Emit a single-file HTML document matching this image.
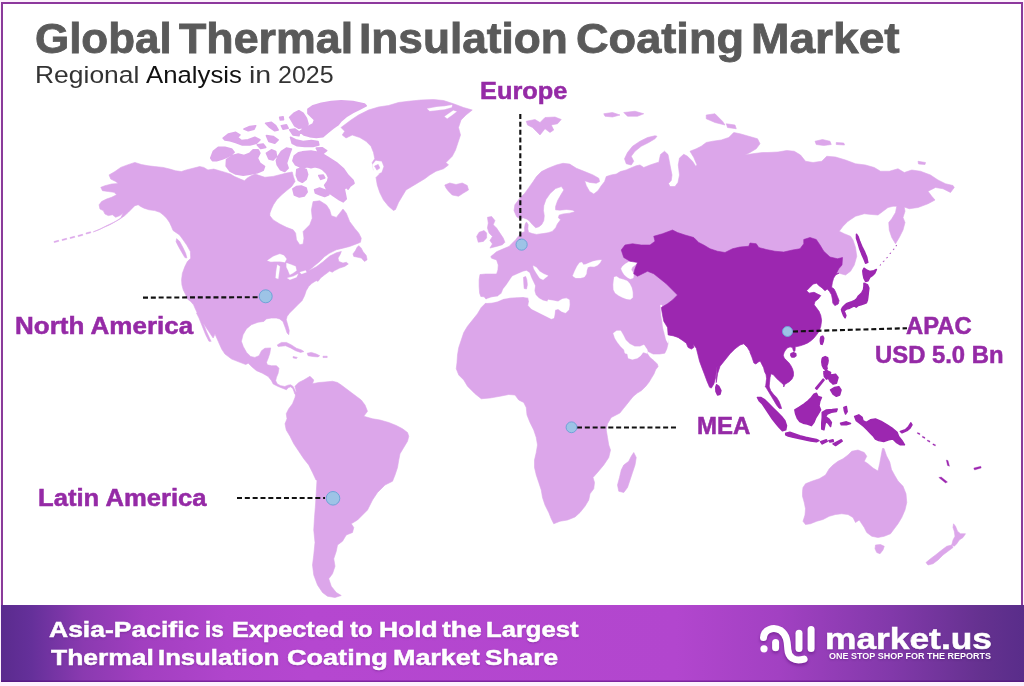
<!DOCTYPE html>
<html><head><meta charset="utf-8"><title>Global Thermal Insulation Coating Market</title>
<style>
html,body{margin:0;padding:0;background:#fdf1fd;}
body{width:1024px;height:686px;position:relative;overflow:hidden;font-family:"Liberation Sans",sans-serif;}
.frame{position:absolute;left:1px;top:2px;width:1022px;height:606px;box-sizing:border-box;border:2px solid #8a3b9a;border-top-color:#8d389d;border-bottom:none;background:#fff;}
.title{position:absolute;font-weight:bold;color:#5a5a5a;-webkit-text-stroke:0.8px #5a5a5a;white-space:nowrap;transform-origin:left top;line-height:1;}
.sub{position:absolute;color:#333;white-space:nowrap;transform-origin:left top;line-height:1;}
.sub b{font-weight:normal;color:#111;}
.lbl{position:absolute;font-weight:bold;color:#952aa6;-webkit-text-stroke:0.5px #952aa6;white-space:nowrap;transform-origin:left top;line-height:1;}
.banner{position:absolute;left:1px;top:605.2px;width:1023px;height:76.4px;box-shadow:inset 0 -1.5px 0 rgba(80,10,120,.55);background:linear-gradient(90deg,#5a2b8e 0%,#65309a 3%,#8a3ab0 8%,#a23fc0 14%,#b045cc 22%,#b547d0 30%,#b246ce 66%,#a241c2 76%,#8239aa 87%,#64318f 96%,#592d8a 100%);}
.btxt{position:absolute;color:#fff;font-weight:bold;-webkit-text-stroke:0.5px #fff;white-space:nowrap;transform-origin:left top;line-height:1;text-shadow:0 1px 2px rgba(60,0,90,.35);}
svg{position:absolute;left:0;top:0;}
</style></head><body>
<div class="frame"></div>
<svg width="1024" height="686" viewBox="0 0 1024 686">
<path d="M109.09,174.9 L114.91,171.57 L120.73,167.42 L127.37,164.93 L134.85,162.43 L141.5,164.59 L148.14,165.76 L154.79,166.59 L163.1,167.42 L169.75,169.08 L175.56,170.74 L181.38,171.57 L186.36,169.91 L193.01,168.25 L199.66,166.59 L203.81,167.42 L207.96,169.91 L213.78,169.08 L219.6,170.74 L225.41,172.4 L230.4,174.06 L234.55,176.56 L240.37,179.05 L244.52,180.71 L247.01,178.22 L251.17,175.73 L254.99,174.06 L264.81,177.25 L273.11,176.42 L279.76,174.76 L286.41,173.1 L292.22,171.94 L293.39,176.42 L295.05,181.41 L291.72,186.39 L286.74,190.55 L281.75,194.7 L276.77,199.69 L273.45,204.67 L271.45,208.99 L269.88,213.23 L269.88,215.73 L273.2,219.88 L279.85,224.03 L286.5,227.36 L293.14,229.85 L295.64,233.17 L296.47,239.82 L299.79,244.81 L303.11,243.97 L303.94,238.16 L303.11,231.51 L304.78,229.85 L309.76,224.87 L312.25,218.22 L311.42,209.91 L313.08,201.6 L319.73,200.77 L326.38,204.93 L329.7,209.91 L331.36,215.73 L336.35,217.39 L339.67,213.23 L342.99,209.08 L346.32,213.23 L349.64,221.54 L354.63,228.19 L358.78,233.17 L361.27,238.16 L360.44,242.31 L356.29,243.97 L349.64,246.47 L342.99,248.13 L336.35,249.79 L329.7,253.11 L324.72,256.44 L319.73,261.42 L314.75,265.58 L309.76,269.73 L308.1,271.06 L316.41,266.74 L323.05,261.75 L329.7,256.11 L336.35,252.78 L341.33,251.45 L340,254.78 L338.01,258.1 L338.84,261.42 L342.99,263.08 L346.32,262.25 L348.31,263.91 L344.66,266.41 L339.67,268.07 L334.69,270.56 L332.19,272.22 L329.7,271.06 L324.72,274.72 L320.56,278.04 L318.07,281.36 L316.17,280.7 L312.01,283.19 L308.69,286.51 L306.2,290.67 L304.54,295.65 L302.04,300.64 L297.89,304.79 L293.74,308.94 L289.58,313.1 L287.09,316.42 L286.26,319.75 L287.92,325.56 L289.25,330.55 L288.75,334.7 L287.09,333.04 L285.43,328.05 L282.93,321.41 L279.61,318.91 L276.29,318.08 L271.3,318.08 L266.32,318.91 L263.83,321.41 L258.01,322.24 L251.36,324.73 L246.38,328.89 L243.05,334.7 L241.39,341.35 L243.25,346.59 L246.57,352.4 L250.73,356.56 L254.88,357.39 L259.03,355.73 L261.53,350.74 L264.85,348.25 L270.67,347.92 L269.84,353.23 L268.17,358.22 L266.51,362.37 L267.34,364.87 L271.5,365.7 L276.48,365.7 L278.97,368.19 L278.14,373.17 L276.48,377.33 L275.65,380.65 L277.31,383.97 L280.64,385.64 L284.79,386.47 L288.11,385.14 L290.61,384.81 L293.1,386.47 L294.76,389.79 L296.09,393.11 L298.08,393.94 L296.42,395.61 L294.76,393.94 L293.93,391.45 L292.77,388.46 L290.61,386.8 L288.11,387.8 L286.45,389.79 L283.13,388.46 L278.14,386.47 L273.16,383.97 L271.5,380.65 L268.17,376.5 L262.36,373.17 L256.54,370.68 L252.39,367.36 L248.23,363.2 L245.74,364.53 L239.93,362.37 L231.62,359.05 L224.97,354.06 L221.65,349.08 L218.32,341.6 L215,334.12 L213.14,338.02 L206.5,328.05 L199.85,318.08 L195.7,309.78 L193.54,304.79 L190.71,301.47 L187.39,298.97 L185.73,294.82 L183.23,289.84 L181.9,284.85 L181.57,279.87 L182.4,273.22 L184.9,266.57 L187.39,261.59 L190.71,258.26 L190.38,251.62 L186.89,245.3 L183.23,239.99 L179.58,235 L173.07,230.56 L171.41,226.41 L169.41,222.25 L166.42,218.1 L163.1,214.78 L159.78,212.28 L154.79,210.62 L148.97,209.79 L143.99,208.13 L140.67,206.47 L138.17,204.81 L134.85,205.64 L132.36,208.13 L128.54,212.12 L124.55,215.77 L119.56,219.26 L113.58,222.42 L106.93,225.58 L100.29,228.9 L93.31,231.89 L99.12,229.73 L104.11,227.24 L109.93,224.75 L115.74,221.42 L120.73,218.1 L123.22,213.11 L119.9,215.61 L115.74,217.27 L112.42,214.78 L108.26,215.61 L104.94,213.94 L103.28,210.62 L99.96,208.96 L99.12,204.81 L101.62,201.48 L106.6,198.99 L111.59,197.33 L116.57,194.84 L114.08,192.34 L108.26,191.51 L102.45,190.68 L100.79,187.36 L104.94,185.7 L111.59,184.03 L118.23,183.54 L115.74,181.54 L110.76,179.05Z M197.36,312.27 L199.85,314.76 L203.17,323.07 L206.5,331.38 L209.82,338.86 L211.15,341.35 L208.99,341.35 L205.67,334.7 L202.34,326.39 L199.02,318.08 L196.53,313.1Z M295,386.25 L298.75,382.5 L303.75,380 L310,376.25 L313.75,380 L312.5,383.75 L318.75,382.5 L325,382 L332.5,381.25 L337.5,382.5 L341.25,385 L346.25,388.75 L351.25,392.5 L356.25,396.25 L361.25,400 L365,405 L367.5,411.25 L363.75,416.25 L372.5,418.75 L380,420 L388.75,422.5 L396.25,425.5 L402.5,428.75 L407.5,432.5 L408.75,436.25 L407.5,441.25 L403.75,447.5 L400,453.75 L398.75,460 L397.5,467.5 L395,475 L392.5,481.25 L385,485 L377.5,492.5 L372.5,500 L370,505 L367.5,510 L362.5,515 L357.5,520 L351.25,523.75 L353.75,527.5 L352.5,532.5 L346.25,535 L342.5,541.25 L337.5,545 L336.25,551.25 L333.75,558.75 L335,566.25 L332.5,573.75 L328.75,578.75 L331.25,586.25 L336.25,592.5 L341.25,595.5 L335,597.5 L327.5,596.25 L322.5,592.5 L317.5,585 L313.75,575 L312.5,565 L313.75,555 L315,542.5 L313.75,530 L314.5,517.5 L315.5,505 L316.25,492.5 L317,480 L316,480 L312.5,472.5 L308.75,465 L303.75,458.75 L298.75,451.25 L293.75,443.75 L290,436.25 L286.25,430 L285,423.75 L287,418.75 L286.25,413.75 L288.75,408.75 L292.5,403.75 L295,397.5 L296.25,391.25Z M341,127.5 L351,120 L358.5,115 L368.5,110 L378.5,107 L388.5,105.5 L398.5,102.5 L408.5,101.25 L421,100 L433.5,99.5 L443.5,100.5 L453.5,103.75 L463.5,107.5 L472.25,110 L466,115 L461,120 L458.5,127.5 L460.5,135 L458,142.5 L455.5,150 L452.25,156.25 L446,162.5 L448.5,165 L443.5,168.75 L436,171.25 L429.75,175 L424.75,178.75 L418.5,182.5 L412.25,186.25 L406,190 L402.25,196.25 L398.5,202.5 L395.5,209.5 L393.5,210.5 L388.5,206.25 L383.5,200 L379.75,192.5 L377.25,185 L376,177.5 L379.75,173.75 L373.5,170 L372.25,162.5 L374.75,158.75 L373.5,152.5 L371,146.25 L366,141.25 L359.75,137.5 L352.25,135 L346,138 L342.25,135 L344.75,131.25Z M444.75,185 L449.75,183 L456,184.5 L462.25,183 L467.25,185.5 L468.5,190 L463.5,193 L458.5,196.25 L452.25,195 L448.5,191.25 L446,188Z M643.75,167.5 L650,165 L657.5,162.5 L658.75,162.5 L660.5,154.5 L664.5,151.25 L668,154.5 L670,165 L672,175 L671.25,180.5 L668.5,183.5 L670,186.5 L675,186.5 L678,182.5 L679.5,175 L678.25,165 L679.5,158 L683.75,154.25 L687.5,156.25 L692.5,161.25 L695.75,166.25 L697,165 L693.75,157.5 L690,151.25 L696.25,148.75 L701.25,146.25 L706.25,142.5 L712.5,141.25 L721.25,140 L728.75,137.5 L733.75,132.5 L740,133.75 L748.75,136.25 L757.5,138.75 L760,143.75 L756.25,148.75 L750,152.5 L745,155 L752.5,153.75 L762.5,152.5 L768,152.5 L778,152 L786.75,150.5 L794.25,151.25 L800.5,155 L805.5,161.25 L813,162.5 L821.75,161.25 L826.75,156.25 L835.5,157 L845.5,160 L855.5,163.75 L865.5,165 L874.25,167.5 L880.5,171.25 L889.25,171.25 L898,168.75 L904.25,172.5 L911.75,170 L920.5,171.25 L930.5,175 L938,180 L945.5,183.75 L953,185.5 L954.25,187.5 L950.5,192.5 L943,188.75 L935.5,187.5 L928,191.25 L931.75,196.25 L935,200 L928,203.75 L918,207.5 L909.25,208.75 L904.25,207 L905,211.25 L903,217.5 L905,222.5 L903,230 L899.25,237.5 L895.5,243.75 L891.75,237.5 L889.25,230 L888.75,222.5 L891.75,218.75 L895.5,212.5 L896.75,206.25 L893,206.25 L888,207.5 L883,211.25 L878,215 L871.75,214.5 L864.25,213.75 L855.5,216.25 L848,221.25 L843,226.25 L839.25,231.25 L844.25,233.75 L850.5,236.25 L853,240 L855.5,247.5 L856.75,256.25 L854.25,265 L850.5,271.25 L845.5,275 L839.02,273.19 L835.7,274.85 L833.54,278.17 L832.37,282.33 L831.54,287.31 L834.03,288.97 L835.7,292.3 L837.36,296.45 L839.02,300.61 L838.19,303.93 L834.87,305.59 L832.87,303.1 L832.37,298.94 L831.54,294.79 L829.55,291.47 L827.39,288.97 L824.9,290.64 L822.4,288.14 L819.08,285.65 L816.59,283.16 L813.26,283.99 L809.94,287.31 L806.62,290.64 L809.11,293.13 L814.09,292.3 L817.42,293.96 L820.74,295.62 L818.25,298.94 L814.93,301.44 L814.09,304.76 L816.59,308.08 L819.08,311.41 L820.74,315.56 L821.57,320.55 L820.74,326.36 L819.08,331.35 L815.92,335.62 L813.48,338.55 L810.55,341 L807.62,342.95 L804.2,344.41 L800.78,345.59 L797.85,346.37 L795.12,346.86 L795.12,349.3 L794.92,351.05 L793.75,351.45 L792.97,349.3 L792.58,347.54 L790.04,346.86 L787.6,347.83 L785.64,349.79 L784.18,352.23 L783.2,355.16 L784.18,358.09 L786.62,360.53 L789.06,362.97 L791.02,365.9 L792.48,368.83 L793.46,372.25 L793.46,375.66 L791.99,379.08 L789.55,381.52 L787.11,382.99 L784.67,384.45 L783.69,386.99 L783.69,384.94 L781.25,382.5 L778.32,380.06 L775.88,377.62 L773.44,374.69 L771,373.71 L770.02,377.62 L769.53,382.5 L769.04,386.99 L769.08,386.62 L770.74,390.77 L773.23,394.09 L776.56,397.42 L779.05,401.57 L780.71,405.73 L781.54,408.55 L779.05,408.22 L776.56,404.9 L774.06,400.74 L771.57,396.59 L769.08,392.43 L766.59,388.28 L765.42,386.62 L765.62,386.99 L766.11,382.5 L766.6,378.59 L766.11,374.69 L764.65,371.76 L763.67,367.85 L761.72,363.95 L760.25,361.02 L758.3,361.99 L755.86,363.95 L753.91,362.97 L751.95,357.11 L750,352.23 L751.25,353.75 L747.5,347.5 L743.75,343.75 L740,345 L735,348.75 L730,353.75 L725,360 L720,366.25 L717.5,373.75 L716.25,382.5 L717.12,365.64 L716.29,371.45 L715.46,378.1 L713.8,383.91 L711.3,388.07 L709.64,387.24 L707.15,381.42 L704.66,374.78 L702.16,368.13 L699.67,361.48 L698.01,354.84 L696.35,348.19 L693.02,344.03 L693.86,347.36 L691.36,349.02 L688.04,347.36 L686.38,343.2 L683.05,340.71 L678.07,337.39 L673.08,335.73 L668.1,334.9 L668.1,343.54 L666.77,349.02 L664.78,353.17 L659.79,354 L653.14,354 L648.16,351.51 L646.16,348.52 L647.33,353.51 L649.82,357.33 L653.97,360.65 L657.3,363.97 L658.13,366.47 L655.64,369.79 L653.97,373.94 L651.48,378.1 L648.99,382.25 L645.67,386.41 L641.51,390.56 L637.36,393.05 L633.2,396.38 L629.88,400.53 L626.56,404.69 L623.23,408.84 L619.91,412.99 L611.25,417.5 L607.5,423.75 L606.25,430 L607.5,437.5 L608.75,445 L610.5,450 L608.75,457.5 L603.75,465 L597.5,472.5 L593,477.5 L594.5,482.5 L593.75,488.75 L590,493.75 L588.75,500 L585,506.25 L580,512.5 L575,517 L567.5,520 L560,521.25 L553.75,523.75 L551.25,518.75 L548.75,512.5 L545,505 L542.5,497.5 L541.25,490 L538.75,482.5 L536.25,475 L534.5,467.5 L534.5,460 L536.25,452.5 L537.5,445 L536.25,437.5 L533.75,430 L530,422.5 L527,415 L526.25,407.5 L523.75,402.5 L518.75,400 L515,395 L508.75,394.5 L500,396.25 L490,398 L481.25,398.75 L475,393.75 L467.5,386.25 L463.75,380 L458.75,375 L456.25,368.75 L457,362.5 L457.5,355 L458.75,347.5 L461.25,340 L463.75,332.5 L467.5,326.25 L472.5,320 L477.5,313.75 L481.25,307.5 L486.25,302.5 L491.25,298 L486.62,299.79 L484.12,296.8 L480.8,296.47 L479.64,293.14 L479.14,286.5 L479.14,279.85 L479.97,274.53 L485.79,274.03 L491.6,274.03 L496.59,274.03 L497.92,269.88 L498.25,264.9 L496.59,259.91 L491.6,258.25 L490.77,256.59 L496.59,251.69 L503.23,248.87 L509.05,246.38 L512.37,243.05 L515.7,239.73 L518.19,236.41 L521.51,233.08 L524.84,231.42 L524.5,228.1 L525.17,223.94 L526.5,221.95 L528.16,224.78 L527.83,228.93 L528.49,232.25 L532.31,233.58 L536.47,234.41 L543.11,233.58 L548.1,232.75 L552.25,231.42 L555.74,227.77 L557.4,223.94 L560.56,219.79 L558.4,217.8 L559.07,215.14 L563.05,213.97 L569.7,213.14 L574.69,211.81 L573.02,210.15 L566.38,209.49 L559.73,210.15 L555.58,209.82 L555.58,206.5 L557.57,200.68 L560.89,194.87 L563.89,189.88 L561.39,186.56 L555.58,188.55 L550.09,193.54 L545.94,199.52 L543.78,205.67 L543.45,210.65 L544.28,215.64 L543.78,220.62 L541.78,224.44 L538.96,226.77 L535.64,227.77 L532.31,224.44 L528.99,220.62 L526.5,218.96 L523.17,217.8 L519.85,218.96 L516.53,216.47 L514.03,210.65 L514.87,204.84 L519.85,198.19 L524.84,193.2 L528.99,187.39 L533.14,181.57 L536.47,176.59 L541.45,171.6 L548.1,168.28 L556.41,164.96 L563.05,163.29 L569.7,164.12 L576.35,168.28 L584.66,171.6 L592.96,174.93 L598.78,178.25 L599.61,181.57 L596.29,183.23 L589.64,182.4 L584.66,180.74 L586.32,185.73 L589.64,191.54 L593.8,194.03 L597.95,190.71 L601.27,185.73 L604.6,181.57 L606.26,176.59 L611.24,174.93 L616.23,174.09 L620.38,171.6 L626.2,169.94 L632.01,167.45 L636.17,165.79 L639.99,164.96Z M487.45,217.3 L491.6,216.47 L494.93,220.62 L493.26,224.78 L496.59,228.1 L499.91,233.08 L503.23,238.07 L504.9,242.22 L502.4,244.72 L496.59,246.38 L489.94,248.04 L492.43,243.89 L489.94,240.56 L492.43,236.41 L489.11,233.08 L487.45,228.1 L488.28,223.11Z M476.65,236.41 L479.14,232.25 L484.12,230.59 L486.62,233.08 L486.62,238.07 L483.29,241.39 L478.31,242.22Z M526.25,121.25 L535,119.5 L540,122.5 L545,117.5 L555,117 L561.25,119.5 L557.5,123.75 L551.25,125 L553.75,130 L550,132.5 L545,128.75 L540,135 L536.25,131.25 L532.5,127.5 L527.5,125Z M655,135.75 L647.5,137.5 L640,141.25 L632.5,146.25 L627.5,152.5 L624.5,158.75 L626.25,163.75 L631.25,165 L633.75,161.25 L631.25,156.25 L635,151.25 L641.25,146.25 L648.75,142.5 L655,138.75 L657,136.25Z M603.75,113.75 L612.5,112.5 L620,115 L612.5,117 L605,116.25Z M623.75,112.5 L635,111.25 L643.75,113.75 L637.5,116.25 L627.5,116.25Z M706.25,115 L715,113.75 L722.5,121.25 L725,125 L715,122.5 L706.25,118.75Z M726.25,123.75 L735,125 L736.25,128.75 L727.5,127.5Z M815,141.25 L822.5,139.5 L830,141.25 L831.25,144.5 L823.75,145.5 L816.25,144.5Z M836.25,142.5 L843.75,143 L844.5,145 L836.25,144.5Z M918,161.25 L925.5,162.5 L925,164.5 L918.5,164Z M633.75,452.5 L636.25,457.5 L635,465 L632.5,472.5 L630,480 L627.5,487.5 L623.75,492.5 L618.75,491.25 L617.5,485 L619.5,477.5 L621.25,470 L623.75,465 L628.75,461.25 L631.25,456.25Z M803,487.5 L805.5,483.75 L811.75,481.25 L819.25,478.75 L825.5,475 L829.25,468.75 L833,465 L838,461.25 L843,458.75 L848,455 L851.75,451.25 L858,450 L864.25,452.5 L866.75,456.25 L864.25,461.25 L868,463.75 L873,468 L878,471 L879.75,463.25 L881.25,455 L882.5,448.5 L884,448.5 L886.5,455.75 L889.75,462 L891.5,469.5 L894.75,475.5 L898,481 L903,486.25 L906,493.75 L906.75,502.5 L905,510 L901.75,517.5 L898,523.75 L894.25,528.75 L890.5,533.75 L884.25,536.25 L878,537.5 L871.75,536.25 L866.75,532.5 L864.25,527.5 L861.75,523.75 L859.25,520 L855.5,522.5 L853,517.5 L848,514.5 L841.75,513.75 L835.5,514.5 L829.25,516.25 L823,519.5 L816.75,521.25 L810.5,523.75 L805.5,524.5 L803,521.25 L805,515 L805.5,508.75 L804.25,502.5 L802.5,496.25 L802.5,491.25Z M875.5,545 L880.5,544.5 L884.25,546.25 L883,550 L880,553.75 L876.75,552.5 L875,548.75Z M953.5,523.75 L955.5,526.25 L957.5,531.25 L960.5,533.75 L965.5,533.75 L963,537.5 L959.25,540 L956.75,543.75 L954.25,546.25 L951.75,545 L953,540 L955,536.25 L954.25,531.25 L953,527.5Z M951.75,545 L953,547.5 L948,551.25 L943,555 L938,560 L933,563.75 L928,565 L926,562.5 L930.5,558.75 L935.5,555 L941.75,550 L946.75,546.25Z M277.31,344.93 L281.47,342.43 L286.45,342.43 L291.44,344.93 L296.42,348.25 L301.41,349.91 L303.9,351.57 L300.58,352.4 L295.59,350.74 L290.61,347.92 L285.62,345.76 L280.64,346.25 L278.14,346.59Z M307.22,353.23 L311.38,352.4 L316.36,354.06 L319.69,355.73 L318.02,356.89 L313.04,356.56 L308.05,355.73Z M293.1,356.56 L297.25,357.39 L296.42,358.55 L293.1,357.89Z M323.01,356.22 L327.16,356.22 L327.16,357.55 L323.01,357.55Z M358.78,245.64 L361.27,248.13 L362.93,251.45 L366.26,255.61 L367.09,259.76 L364.6,261.42 L361.27,258.1 L357.95,257.27 L353.8,256.44 L352.96,253.94 L355.46,250.62 L357.12,247.3Z M176.59,238.66 L179.58,241.31 L182.9,247.46 L185.73,253.61 L186.89,257.93 L184.9,257.6 L181.9,252.45 L178.58,246.63 L176.09,241.65Z M86,233 L90.5,231.8 L90.8,232.8 L86.3,234Z M78,235.5 L82.5,234.3 L82.8,235.3 L78.3,236.5Z M70,237.5 L74.5,236.3 L74.8,237.3 L70.3,238.5Z M62,239.5 L66.5,238.3 L66.8,239.3 L62.3,240.5Z M54,241.5 L58.5,240.3 L58.8,241.3 L54.3,242.5Z" fill="#dca6ea" stroke="#dca6ea" stroke-width="0.6" stroke-linejoin="round"/>
<path d="M210.8,158.14 L213.29,151.5 L218.28,147.34 L224.93,147.34 L231.57,149 L234.06,152.33 L230.74,154.82 L226.59,157.31 L222.43,158.97 L216.62,160.64 L212.46,160.64Z M226.59,159.81 L232.4,155.65 L238.22,153.99 L244.03,155.65 L249.85,153.16 L253.17,149.84 L258.16,149.84 L259.82,153.16 L257.33,158.14 L259.82,163.13 L264.47,166.45 L263.14,170.11 L257.33,172.77 L249.85,174.1 L243.2,175.09 L235.73,173.93 L229.91,171.11 L226.25,166.12Z M223.26,138.2 L228.25,134.05 L235.73,132.39 L239.88,134.88 L237.39,137.37 L241.54,140.7 L248.19,139.87 L254.84,137.37 L259.82,139.87 L256.5,143.19 L249.85,144.85 L242.37,144.85 L235.73,142.36 L229.91,140.7 L224.93,139.87Z M244.03,129.06 L249.85,126.57 L255.67,125.74 L254,129.06 L248.19,130.73Z M265.64,123.25 L271.45,122.42 L275.61,125.74 L278.1,129.9 L274.78,130.73 L269.79,127.4Z M266.47,135.71 L273.11,136.54 L278.1,139.87 L274.78,143.19 L268.96,141.53Z M281.42,125.74 L286.41,124.91 L288.07,128.23 L283.08,129.06Z M290.56,137.37 L295.55,139.87 L303.02,141.53 L311.33,140.7 L317.98,141.53 L318.81,144.85 L312.99,146.51 L304.69,146.51 L297.21,145.68 L292.22,143.19Z M308.01,109.12 L312.99,105.8 L321.3,103.31 L331.27,101.65 L341.24,100.82 L352.87,101.65 L364.51,104.14 L366.17,105.8 L359.52,109.12 L352.87,112.45 L346.23,116.6 L341.24,120.76 L337.92,124.91 L332.93,128.23 L327.95,132.39 L322.96,136.54 L316.32,137.37 L309.67,136.54 L303.86,134.88 L299.7,131.56 L303.02,129.06 L308.01,126.57 L312.99,124.08 L314.66,119.93 L311.33,116.6 L308.01,113.28Z M289.73,117.43 L293.89,113.28 L298.87,110.79 L303.02,113.28 L306.35,118.26 L308.01,124.08 L304.69,127.4 L298.87,128.23 L294.72,125.74 L292.22,121.59Z M266.47,153.16 L271.45,149.84 L275.61,151.5 L276.44,156.48 L273.11,159.81 L268.96,158.97Z M278.1,156.48 L281.42,151.5 L286.41,148.17 L291.39,149 L289.73,153.16 L288.07,158.14 L286.41,163.13 L288.07,168.11 L284.75,171.44 L280.59,169.78 L277.27,164.79 L276.44,160.64Z M302.23,151.95 L311.02,150.98 L320.78,152.93 L328.59,157.81 L336.41,162.7 L343.24,168.55 L348.12,175.39 L353.01,180.27 L353.98,183.2 L350.08,186.13 L348.12,189.06 L346.17,187.11 L344.22,189.06 L345.2,193.95 L346.17,198.83 L343.24,201.76 L339.34,199.8 L336.41,197.85 L333.48,195.9 L329.57,192.97 L326.64,189.06 L324.69,185.16 L327.62,181.25 L328.59,177.34 L326.64,173.44 L322.73,169.53 L318.83,167.58 L314.92,166.6 L311.02,167.58 L307.11,166.6 L303.2,167.58 L299.3,166.6 L295.39,164.65 L292.95,160.74 L294.41,155.86 L298.32,152.93Z M296.86,169.53 L301.25,168.07 L306.13,169.53 L307.6,174.41 L306.13,179.3 L302.23,182.23 L298.32,180.27 L296.37,175.39Z M292.95,189.06 L296.37,186.62 L301.25,186.13 L306.13,188.09 L307.11,191.99 L304.18,195.9 L299.3,196.88 L294.41,194.92Z M318.83,175.59 L323.22,175.2 L324.69,177.83 L320.78,179.3Z M314.66,189.72 L319.64,188.05 L326.29,190.55 L328.78,194.7 L324.63,196.36 L319.64,194.7 L315.49,193.04Z M289.73,129.9 L294.72,129.06 L299.7,132.39 L298.87,135.71 L293.05,134.88Z M316.32,148.17 L322.13,147.84 L326.62,150.67 L323.8,152.83 L318.31,151.83Z M257.33,144.85 L263.14,144.02 L265.64,147.34 L260.65,148.51Z M279.76,117.43 L283.08,116.93 L283.42,119.59 L280.43,119.93Z" fill="#dca6ea" stroke="#dca6ea" stroke-width="1.7" stroke-linejoin="round"/>
<path d="M486.62,298.96 L491.6,297.3 L497.42,296.47 L501.57,293.14 L503.23,288.99 L506.56,284.84 L509.88,279.85 L512.37,276.19 L517.36,274.03 L523.17,271.54 L526.5,270.71 L529.49,272.87 L531.15,277.36 L533.14,281.51 L535.14,285.67 L534.47,290.65 L535.64,294.81 L538.96,298.13 L543.11,300.62 L547.27,301.45 L548.1,299.79 L553.08,300.62 L558.07,301.45 L562.22,298.96 L566.38,298.13 L569.37,299.79 L569.7,304.78 L568.87,309.76 L565.55,313.08 L561.39,311.42 L558.07,308.93 L555.08,310.09 L554.75,313.91 L553.91,318.07 L551.42,318.9 L546.44,316.41 L541.45,313.91 L536.47,311.42 L531.48,308.93 L528.16,305.61 L528.99,301.45 L528.16,297.8 L523.17,296.97 L516.53,297.3 L509.88,297.8 L503.23,298.96 L497.42,301.45 L491.6,302.78 L486.62,303.11 L484.12,301.78Z M533.14,265.73 L536.47,267.39 L539.79,271.54 L543.94,274.03 L548.1,275.7 L543.11,279.85 L539.79,278.19 L536.47,273.2 L533.97,269.05Z M572.7,276.02 L574.65,271.13 L577.09,266.25 L579.53,262.83 L581.97,262.34 L583.44,264.79 L585.88,264.3 L589.3,262.83 L593.2,261.37 L598.09,260.2 L601.5,259.9 L600.04,262.83 L597.6,265.27 L594.18,266.74 L590.27,266.45 L587.83,267.23 L586.86,270.16 L586.37,274.06 L584.41,276.99 L580.51,277.97 L575.62,277.97Z M621.04,268.69 L622.5,266.25 L625.43,263.81 L628.85,261.86 L632.75,260.88 L637.15,261.17 L637.64,263.32 L634.71,265.27 L632.27,267.23 L631.29,269.67 L632.75,272.11 L633.73,275.04 L633.24,277.97 L630.31,278.95 L627.38,277.48 L624.45,275.04 L622.5,272.11Z M614.2,276.99 L616.64,276.5 L619.57,278.46 L623.48,279.43 L627.38,280.9 L629.82,283.83 L631.78,287.73 L632.75,292.62 L632.75,297.5 L630.31,299.45 L626.41,298.96 L622.5,297.5 L618.59,295.55 L615.18,293.11 L613.52,289.69 L613.22,284.8 L613.71,280.41Z M613.26,333.23 L616.59,330.74 L620.74,330.74 L623.23,334.9 L625.73,339.88 L629.88,344.03 L634.87,346.53 L639.85,346.53 L644,344.87 L645.67,347.36 L647.33,349.85 L647.33,353.51 L643.17,352.34 L640.68,355.67 L637.36,358.16 L632.37,359.49 L628.22,358.16 L627.39,354 L624.9,353.17 L624.06,349.85 L620.74,346.53 L617.42,342.37 L614.93,338.22Z M660.46,304.99 L661.78,304.99 L663.11,313.29 L664.78,317.45 L664.28,321.6 L666.44,324.93 L668.76,329.91 L667.77,334.56 L669.76,335.56 L668.1,343.54 L666.11,339.88 L664.44,333.23 L663.11,328.25 L662.28,321.6 L661.12,314.96Z M267.39,260.59 L273.2,256.44 L279.85,253.94 L284,255.61 L286.5,258.93 L284.84,262.25 L279.85,261.42 L274.87,261.42 L270.71,261.75Z M277.36,264.75 L279.85,266.41 L279.02,273.05 L278.19,278.87 L275.7,278.04 L276.19,271.39Z M286.5,263.08 L291.48,264.75 L295.64,266.41 L296.47,270.56 L293.14,273.05 L289.82,274.72 L288.16,270.56 L286.5,267.24Z M287.33,278.04 L293.14,276.38 L298.13,273.89 L296.47,277.21 L289.82,279.7Z M299.79,272.22 L305.61,270.56 L306.44,272.22 L301.45,273.89Z M427.21,108.63 L436.35,106.96 L444.66,106.3 L452.13,104.97 L451.64,107.3 L444.66,109.29 L436.35,110.29 L429.7,110.95Z M444.66,116.6 L449.64,112.95 L453.3,110.62 L456.62,111.62 L452.13,114.94 L447.15,118.6Z M372.37,164.79 L375.7,160.64 L381.51,161.47 L383.51,166.45 L381.51,172.27 L376.53,174.43 L373.54,170.61Z" fill="#ffffff" stroke="#ffffff" stroke-width="0.3" stroke-linejoin="round"/>
<path d="M523.51,277.36 L525.67,276.53 L526.83,279.85 L527.33,284.84 L526.5,288.99 L524.17,288.49 L523.84,284Z M374.53,166.12 L378.19,164.46 L379.85,168.11 L376.86,170.11Z" fill="#dca6ea" stroke="#dca6ea" stroke-width="0.6" stroke-linejoin="round"/>
<path d="M621.25,250 L625,245 L632.5,243.75 L641.25,245 L650,245 L655,241.25 L653.75,236.25 L662.5,233.75 L672.5,230 L677.5,232.5 L685,235 L693.75,237.5 L698.75,242.5 L703.75,245 L710,248.75 L717.5,251.25 L725,252.5 L732.5,248.75 L740,247 L748.75,246.25 L750,243 L756.25,243.75 L758.75,247.5 L766.25,249.5 L775,251.25 L783.75,252 L792.5,250 L800,248.75 L803.75,243.75 L803.75,239.5 L810,237.5 L816.25,239.5 L820,245 L823.75,251.25 L830,257 L837.5,258.75 L842.5,257.5 L842,265 L838.75,268.75 L836.25,273.75 L839.02,273.19 L835.7,274.85 L833.54,278.17 L832.37,282.33 L831.54,287.31 L834.03,288.97 L835.7,292.3 L837.36,296.45 L839.02,300.61 L838.19,303.93 L834.87,305.59 L832.87,303.1 L832.37,298.94 L831.54,294.79 L829.55,291.47 L827.39,288.97 L824.9,290.64 L822.4,288.14 L819.08,285.65 L816.59,283.16 L813.26,283.99 L809.94,287.31 L806.62,290.64 L809.11,293.13 L814.09,292.3 L817.42,293.96 L820.74,295.62 L818.25,298.94 L814.93,301.44 L814.09,304.76 L816.59,308.08 L819.08,311.41 L820.74,315.56 L821.57,320.55 L820.74,326.36 L819.08,331.35 L815.92,335.62 L813.48,338.55 L810.55,341 L807.62,342.95 L804.2,344.41 L800.78,345.59 L797.85,346.37 L795.12,346.86 L795.12,349.3 L794.92,351.05 L793.75,351.45 L792.97,349.3 L792.58,347.54 L790.04,346.86 L787.6,347.83 L785.64,349.79 L784.18,352.23 L783.2,355.16 L784.18,358.09 L786.62,360.53 L789.06,362.97 L791.02,365.9 L792.48,368.83 L793.46,372.25 L793.46,375.66 L791.99,379.08 L789.55,381.52 L787.11,382.99 L784.67,384.45 L783.69,386.99 L783.69,384.94 L781.25,382.5 L778.32,380.06 L775.88,377.62 L773.44,374.69 L771,373.71 L770.02,377.62 L769.53,382.5 L769.04,386.99 L769.08,386.62 L770.74,390.77 L773.23,394.09 L776.56,397.42 L779.05,401.57 L780.71,405.73 L781.54,408.55 L779.05,408.22 L776.56,404.9 L774.06,400.74 L771.57,396.59 L769.08,392.43 L766.59,388.28 L765.42,386.62 L765.62,386.99 L766.11,382.5 L766.6,378.59 L766.11,374.69 L764.65,371.76 L763.67,367.85 L761.72,363.95 L760.25,361.02 L758.3,361.99 L755.86,363.95 L753.91,362.97 L751.95,357.11 L750,352.23 L751.25,353.75 L747.5,347.5 L743.75,343.75 L740,345 L735,348.75 L730,353.75 L725,360 L720,366.25 L717.5,373.75 L716.25,382.5 L717.12,365.64 L716.29,371.45 L715.46,378.1 L713.8,383.91 L711.3,388.07 L709.64,387.24 L707.15,381.42 L704.66,374.78 L702.16,368.13 L699.67,361.48 L698.01,354.84 L696.35,348.19 L693.02,344.03 L693.86,347.36 L691.36,349.02 L688.04,347.36 L686.38,343.2 L683.05,340.71 L678.07,337.39 L673.08,335.73 L668.1,334.9 L667.5,327.5 L663.75,321.25 L662.5,315 L661.25,307.5 L667.5,303.75 L672.5,300 L677.5,295 L672.5,290 L666.25,283.75 L660,278.75 L653.75,273.75 L647.5,271.25 L642.5,273.75 L637.5,276.25 L633.75,273.75 L635,268.75 L637.5,262.5 L630,261.25 L623.75,257.5Z" fill="#9c27b0" stroke="#9c27b0" stroke-width="0.6" stroke-linejoin="round"/>
<path d="M856.47,234.14 L858.13,236.63 L859.79,241.62 L862.28,247.43 L864.78,252.42 L866.77,257.4 L867.77,262.39 L865.61,263.22 L863.94,259.06 L861.78,254.08 L859.79,249.09 L858.13,243.28 L856.47,238.29Z M863.94,268.2 L866.44,269.87 L869.76,271.53 L873.91,270.7 L876.41,269.53 L874.75,273.19 L872.25,275.68 L869.76,277.34 L868.1,280.67 L865.61,281.5 L863.94,278.17 L863.11,274.02 L862.78,270.7Z M863.96,283.18 L867.38,284.65 L868.85,288.07 L868.36,292.46 L867.87,296.86 L867.38,300.27 L866.41,302.71 L863.96,303.69 L861.04,304.67 L858.11,305.64 L856.15,307.11 L854.69,306.13 L852.73,306.62 L850.78,307.6 L848.83,308.57 L846.39,309.06 L844.43,310.53 L842.97,310.04 L841.5,309.55 L842.48,307.6 L844.43,305.64 L846.39,303.69 L848.83,302.71 L851.76,301.74 L854.2,300.76 L856.64,298.81 L858.11,296.37 L860.06,294.41 L862.01,292.46 L863.48,289.53 L863.96,286.11Z M841.5,309.55 L843.46,310.53 L844.92,312.97 L845.9,315.41 L845.12,317.85 L843.75,315.9 L842.77,313.46 L841.99,311.5Z M821.09,336.6 L822.75,336.11 L823.73,338.07 L823.24,341.48 L822.07,344.41 L820.8,343.93 L820.31,341 L820.51,338.55Z M791.02,353.69 L793.46,352.71 L795.7,353.69 L795.9,355.64 L793.95,357.11 L791.8,356.91 L790.82,355.35Z M716.62,384.75 L718.78,386.41 L720.94,390.56 L719.94,394.38 L717.62,395.05 L715.96,391.39 L715.79,387.24Z M822.75,357.6 L825.2,356.62 L827.64,357.6 L828.12,360.53 L827.64,363.46 L826.66,365.9 L827.15,368.83 L825.68,369.8 L823.73,368.34 L822.27,365.41 L821.78,361.99 L822.07,359.06Z M823.73,371.76 L827.15,370.78 L828.12,373.22 L825.68,374.69Z M828.12,376.15 L832.03,374.69 L834.96,376.15 L836.91,378.59 L834.96,382.5 L832.52,383.48 L830.08,381.52 L828.61,378.59Z M823.91,373.32 L827.24,370.83 L830.56,372.49 L829.73,377.48 L826.41,379.14 L824.41,376.65Z M831.39,374.99 L835.55,374.15 L838.04,377.48 L836.38,383.29 L833.05,384.12 L831.06,379.97Z M830.56,389.94 L834.72,387.45 L838.87,386.62 L841.03,389.94 L839.7,394.93 L836.38,396.25 L833.05,394.09Z M815.61,388.28 L823.08,379.14 L824.08,379.97 L816.77,389.28Z M757.45,397.42 L760.77,397.42 L764.93,399.91 L769.08,404.06 L773.23,408.22 L777.39,412.37 L781.54,416.53 L784.87,420.68 L786.53,425.67 L785.7,429.82 L782.37,430.65 L779.05,427.33 L775.73,423.17 L772.4,419.02 L769.08,414.03 L765.76,409.05 L762.43,404.06 L759.11,400.74Z M785.7,433.14 L789.85,432.31 L794.84,433.97 L799.82,435.64 L805.64,437.3 L811.45,438.46 L816.44,439.46 L818.93,440.62 L816.44,441.78 L810.62,441.12 L804.81,439.79 L798.99,438.46 L793.17,437.3 L788.19,436.13 L785.7,434.81Z M820.59,441.78 L826.41,439.79 L827.24,441.45 L822.25,443.94Z M828.9,440.62 L833.05,439.79 L833.39,441.45 L829.73,441.95Z M833.05,443.94 L841.36,439.79 L842.19,441.12 L835.55,445.61Z M794.84,409.88 L798.99,407.39 L803.97,404.06 L808.13,400.74 L811.45,397.42 L813.94,394.09 L816.44,393.26 L818.1,396.59 L821.42,397.42 L819.76,401.57 L818.93,405.73 L820.59,409.88 L818.1,414.03 L815.61,418.19 L813.94,422.34 L811.45,425.67 L807.3,424 L803.14,423.17 L799.82,421.51 L797.33,418.19 L795.67,414.03Z M822.25,412.37 L826.41,409.88 L832.22,409.55 L837.21,409.05 L836.38,411.54 L831.39,412.37 L827.24,414.03 L825.58,416.53 L828.9,419.02 L831.39,422.34 L830.56,426.5 L828.07,423.17 L825.58,421.51 L824.75,425.67 L823.91,429.82 L821.75,428.99 L821.75,423.17 L822.25,417.36Z M843.86,407.39 L846.35,406.56 L847.18,411.54 L845.52,414.03 L844.35,410.71Z M840.53,423.17 L846.35,421.84 L850.5,423.51 L846.35,424.84 L841.36,424.84Z M854.66,416.53 L858.81,414.87 L862.13,417.36 L862.96,420.68 L866.29,422.34 L870.44,419.85 L875.43,419.02 L881.24,421.51 L887.06,424.84 L892.04,428.16 L897.03,432.31 L898.69,436.47 L902.01,440.62 L904.51,444.78 L900.35,444.78 L896.2,442.28 L892.87,438.96 L888.72,439.79 L883.74,441.45 L878.75,440.62 L875.43,438.96 L872.93,435.64 L870.44,433.14 L867.12,429.82 L863.8,426.5 L859.64,423.17 L856.32,420.68Z M900.35,431.48 L905.34,429.82 L908.66,426.5 L910.82,422.84 L911.98,424.84 L909.99,428.16 L907,430.65 L902.01,432.81Z" fill="#9c27b0" stroke="#9c27b0" stroke-width="1.5" stroke-linejoin="round"/>
<path d="M917.5,432.5 L920,433.5 L919.75,434.75 L917.25,433.5Z M922.5,436.25 L925,437.25 L924.75,438.5 L922.25,437.25Z M927.5,440 L930,441 L929.75,442.25 L927.25,441Z M933,443.75 L935.5,444.75 L935.25,446 L932.75,444.75Z M946.25,460 L948,460.5 L949.5,466.25 L947.5,465.5Z M938.75,477.5 L941.25,477 L947.5,482 L945.5,483Z M973.75,468 L980.75,466.25 L981.25,468 L974.5,470Z M879.73,265.21 L880.56,264.38 L881.06,264.71 L880.06,265.55Z M883.05,261.56 L883.89,260.73 L884.38,261.06 L883.39,261.89Z M886.38,257.9 L887.21,257.07 L887.71,257.4 L886.71,258.23Z M889.7,253.58 L890.53,252.75 L891.03,253.08 L890.03,253.91Z M893.02,249.59 L893.86,248.76 L894.35,249.09 L893.36,249.93Z M895.68,245.94 L896.51,245.11 L897.01,245.44 L896.02,246.27Z" fill="#9c27b0" stroke="#9c27b0" stroke-width="0.3" stroke-linejoin="round"/>
<g stroke="#111" stroke-width="2.15" stroke-dasharray="5 2.83" fill="none">
<line x1="143" y1="297.6" x2="259" y2="297.2"/>
<line x1="237" y1="498" x2="325" y2="498"/>
<line x1="520.3" y1="114" x2="520.3" y2="240.5"/>
<line x1="577" y1="427.5" x2="677" y2="427.5"/>
<line x1="793" y1="331.5" x2="907" y2="328.2"/>
</g>
<g fill="#9dc3e6" stroke="#6fa3d8" stroke-width="1">
<circle cx="265.7" cy="296.3" r="6.5"/>
<circle cx="333" cy="498.3" r="6.8"/>
<circle cx="521.6" cy="244.6" r="5.6"/>
<circle cx="571.5" cy="427.3" r="5.4"/>
<circle cx="787.5" cy="331.5" r="5"/>
</g>
</svg>
<div class="title" style="left:35.24px;top:18.49px;font-size:41.72px;transform:scaleX(1.0528);">Global</div>
<div class="title" style="left:179.05px;top:18.49px;font-size:41.72px;transform:scaleX(1.0728);">Thermal</div>
<div class="title" style="left:359.40px;top:18.49px;font-size:41.72px;transform:scaleX(1.0602);">Insulation</div>
<div class="title" style="left:575.69px;top:18.49px;font-size:41.72px;transform:scaleX(1.0824);">Coating</div>
<div class="title" style="left:750.52px;top:18.49px;font-size:41.72px;transform:scaleX(1.1051);">Market</div>
<div class="sub" style="left:34.88px;top:64.31px;font-size:23.26px;transform:scaleX(1.1372);">Regional</div>
<div class="sub" style="left:146.25px;top:64.31px;font-size:23.26px;transform:scaleX(1.1070);"><b>Analysis</b></div>
<div class="sub" style="left:248.50px;top:64.31px;font-size:23.26px;transform:scaleX(1.2262);">in</div>
<div class="sub" style="left:277.50px;top:64.31px;font-size:23.26px;transform:scaleX(1.0750);">2025</div>
<div class="lbl" style="left:15.28px;top:315.29px;font-size:23.69px;transform:scaleX(1.0978);">North America</div>
<div class="lbl" style="left:38.31px;top:486.79px;font-size:23.69px;transform:scaleX(1.0821);">Latin America</div>
<div class="lbl" style="left:480.02px;top:79.69px;font-size:23.69px;transform:scaleX(1.0704);">Europe</div>
<div class="lbl" style="left:697.22px;top:415.34px;font-size:23.40px;transform:scaleX(1.0260);">MEA</div>
<div class="lbl" style="left:906.29px;top:315.34px;font-size:23.40px;transform:scaleX(1.0177);">APAC</div>
<div class="lbl" style="left:875.27px;top:343.69px;font-size:23.69px;transform:scaleX(1.0068);">USD 5.0 Bn</div>
<div class="banner"></div>
<div class="btxt" style="left:49.20px;top:618.73px;font-size:22.53px;transform:scaleX(1.1769);">Asia-Pacific</div>
<div class="btxt" style="left:204.67px;top:618.73px;font-size:22.53px;transform:scaleX(1.0018);">is</div>
<div class="btxt" style="left:231.98px;top:618.73px;font-size:22.53px;transform:scaleX(1.1200);">Expected</div>
<div class="btxt" style="left:349.76px;top:618.73px;font-size:22.53px;transform:scaleX(1.0598);">to</div>
<div class="btxt" style="left:379.40px;top:618.73px;font-size:22.53px;transform:scaleX(1.1737);">Hold</div>
<div class="btxt" style="left:442.23px;top:618.73px;font-size:22.53px;transform:scaleX(1.1781);">the</div>
<div class="btxt" style="left:485.71px;top:618.73px;font-size:22.53px;transform:scaleX(1.1380);">Largest</div>
<div class="btxt" style="left:50.99px;top:647.43px;font-size:22.53px;transform:scaleX(1.1738);">Thermal</div>
<div class="btxt" style="left:157.70px;top:647.43px;font-size:22.53px;transform:scaleX(1.1411);">Insulation</div>
<div class="btxt" style="left:287.42px;top:647.43px;font-size:22.53px;transform:scaleX(1.2019);">Coating</div>
<div class="btxt" style="left:393.12px;top:647.43px;font-size:22.53px;transform:scaleX(1.1945);">Market</div>
<div class="btxt" style="left:485.46px;top:647.43px;font-size:22.53px;transform:scaleX(1.1670);">Share</div>
<div class="btxt" style="left:824.63px;top:623.61px;font-size:29.29px;transform:scaleX(1.2066);">market.us</div>
<div class="btxt" style="left:828.54px;top:651.94px;font-size:8.58px;transform:scaleX(1.0483);-webkit-text-stroke:0;">ONE STOP SHOP FOR THE REPORTS</div>
<svg width="1024" height="686" viewBox="0 0 1024 686" id="logo">
<g fill="none" stroke="#fff" stroke-width="7" stroke-linecap="round" style="filter:drop-shadow(0 2px 1.5px rgba(70,0,100,.4))">
<path d="M763.5,637.6 C764,629.7 773.3,626 780.8,630.6 C787.3,635.3 787.3,642.8 787.8,649.3 C788.2,656.8 793.8,662.3 804.1,659.1"/>
<line x1="775.6" y1="642.5" x2="775.6" y2="647.7"/>
<line x1="799" y1="633.2" x2="799" y2="648.6"/>
<line x1="811.1" y1="629.4" x2="811.1" y2="648.6"/>
</g>
<circle cx="764" cy="648.8" r="3.6" fill="#fff"/>
</svg>
</body></html>
